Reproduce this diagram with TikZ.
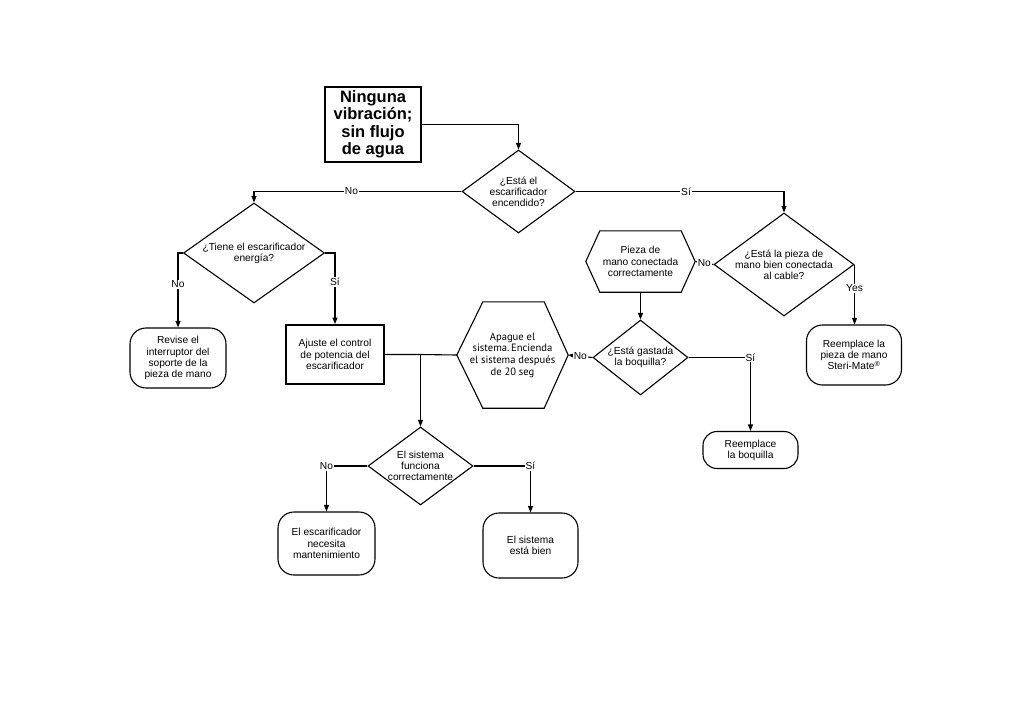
\documentclass[tikz,border=0pt]{standalone}
\usepackage{fontspec}
\setmainfont{Liberation Sans}
\newfontfamily\hexfont{PT Sans}
\usetikzlibrary{shapes.geometric,arrows.meta,calc}
\begin{document}
\begin{tikzpicture}[x=1pt,y=-1pt,
  txt/.style={font=\fontsize{10.2}{11.2}\selectfont, align=center},
  dia/.style={diamond, draw, line width=1.1pt, inner sep=0pt},
  rbox/.style={rectangle, draw, line width=1.1pt, rounded corners=16pt, inner sep=0pt, txt},
  sbox/.style={rectangle, draw, line width=1.9pt, inner sep=0pt, txt},
  hexbox/.style={rectangle, inner sep=0pt, align=center},
  conn/.style={line width=1.1pt},
  arr/.style={line width=1.1pt, -{Triangle[length=6.5pt,width=5pt]}},
  lab/.style={fill=white, inner sep=1pt, font=\fontsize{10.2}{11.2}\selectfont},
  hexline/.style={line width=1.1pt, line join=miter}
]
\useasboundingbox (0,0) rectangle (1026,702);

% title
\node[rectangle, draw, line width=2.2pt, minimum width=96, minimum height=75, inner sep=0pt,
  align=center, font=\bfseries\fontsize{16.5}{17.5}\selectfont] (title) at (373,124.5)
  {Ninguna\\vibración;\\sin flujo\\de agua};

% diamonds
\node[dia, minimum width=113, minimum height=83,
  label={[txt]center:¿Está el\\escarificador\\encendido?}] (d1) at (518.5,191.5) {};
\node[dia, minimum width=141, minimum height=100,
  label={[txt]center:¿Tiene el escarificador\\energía?}] (d2) at (254,253) {};
\node[dia, minimum width=140, minimum height=103,
  label={[txt]center:¿Está la pieza de\\mano bien conectada\\al cable?}] (d3) at (784,264.5) {};
\node[dia, minimum width=95, minimum height=75,
  label={[txt]center:¿Está gastada\\la boquilla?}] (d5) at (640.5,357.5) {};
\node[dia, minimum width=105, minimum height=78,
  label={[txt]center:El sistema\\funciona\\correctamente}] (d4) at (420.5,466) {};

% boxes
\node[rbox, minimum width=96, minimum height=60] (rev) at (178,358)
  {Revise el\\interruptor del\\soporte de la\\pieza de mano};
\node[sbox, minimum width=98, minimum height=59] (aj) at (335,354.5)
  {Ajuste el control\\de potencia del\\escarificador};
\node[rbox, minimum width=95, minimum height=60] (rp) at (854,355)
  {Reemplace la\\pieza de mano\\Steri-Mate\textsuperscript{®}};
\node[rbox, minimum width=95, minimum height=37, rounded corners=14pt] (boq) at (750.5,450)
  {Reemplace\\la boquilla};
\node[rbox, minimum width=97, minimum height=63] (esc) at (326.5,543.5)
  {El escarificador\\necesita\\mantenimiento};
\node[rbox, minimum width=95, minimum height=65] (bien) at (530.5,545.5)
  {El sistema\\está bien};

% hexagons
\node[hexbox, minimum width=111, minimum height=106,
  font=\hexfont\fontsize{10.6}{11.6}\selectfont] (hexA) at (512.5,355)
  {Apague el\\sistema.\,Encienda\\el sistema después\\de 20 seg};
\draw[hexline] (hexA.west) -- ($(hexA.north west)+(26,0)$) -- ($(hexA.north east)+(-24,0)$)
  -- (hexA.east) -- ($(hexA.south east)+(-24,0)$) -- ($(hexA.south west)+(26,0)$) -- cycle;
\node[hexbox, minimum width=109, minimum height=61, txt] (hexP) at (640.5,261.5)
  {Pieza de\\mano conectada\\correctamente};
\draw[hexline] (hexP.west) -- ($(hexP.north west)+(14,0)$) -- ($(hexP.north east)+(-14,0)$)
  -- (hexP.east) -- ($(hexP.south east)+(-14,0)$) -- ($(hexP.south west)+(14,0)$) -- cycle;

% connectors
\draw[arr] (title.east) -| (d1.north);
\draw[arr] (d1.west) -- node[lab, pos=0.53]{No} (d1.west -| d2.north) -- (d2.north);
\draw[arr] (d1.east) -- node[lab, pos=0.53]{Sí} (d1.east -| d3.north) -- (d3.north);
\draw[arr] (d2.west) -- (d2.west -| rev.north) -- node[lab, pos=0.42]{No} (rev.north);
\draw[arr] (d2.east) -- (d2.east -| aj.north) -- node[lab, pos=0.41]{Sí} (aj.north);
\draw[arr] (d3.west) -- node[lab]{No} (hexP.east);
\draw[arr] (d3.east) -- node[lab, pos=0.4]{Yes} (d3.east |- rp.north);
\draw[arr] (hexP.south) -- (d5.north);
\draw[arr] (d5.west) -- node[lab]{No} (hexA.east);
\draw[arr] (d5.east) -- (d5.east -| boq.north) node[lab]{Sí} -- (boq.north);
\coordinate (j) at (d4.north |- aj.east);
\draw[conn] (aj.east) -- (j) -- (hexA.west);
\draw[arr] (j) -- (d4.north);
\draw[arr] (d4.west) -- (d4.west -| esc.north) node[lab]{No} -- (esc.north);
\draw[arr] (d4.east) -- (d4.east -| bien.north) node[lab]{Sí} -- (bien.north);
\end{tikzpicture}
\end{document}
